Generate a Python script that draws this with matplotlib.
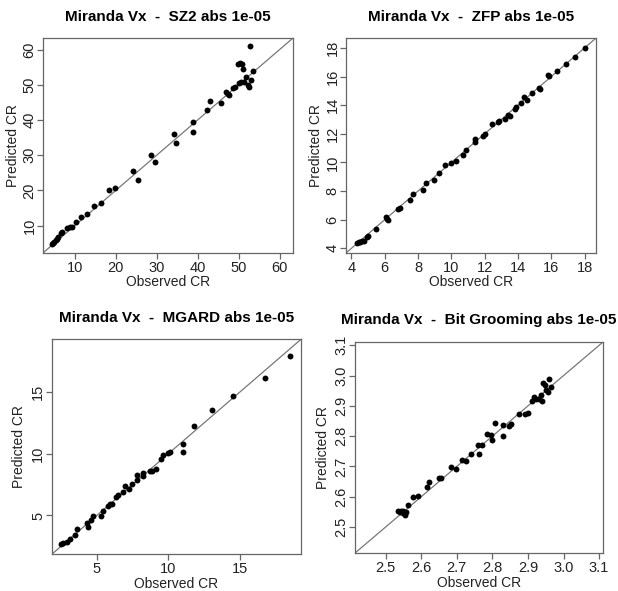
import matplotlib

matplotlib.use("Agg")
import matplotlib.pyplot as plt
import numpy as np

plt.rcParams["font.family"] = ["Liberation Sans", "DejaVu Sans"]

# SZ2
sz2_observed = [4.4, 4.7, 5.0, 5.3, 5.7, 6.0, 6.7, 6.9, 8.2, 8.8, 9.3, 10.2, 11.5,
                13.0, 14.6, 16.4, 18.3, 19.8, 24.3, 25.4, 28.6, 29.6, 34.2, 34.7,
                38.75, 38.9, 42.4, 43.0, 45.7, 46.8, 47.3, 47.6, 48.6, 49.0,
                49.9, 50.4, 50.8, 51.0, 53.5, 51.9, 53.1, 50.0, 50.6, 51.2,
                52.2, 52.6, 52.9]
sz2_predicted = [4.8, 5.1, 5.4, 5.8, 6.3, 6.7, 8.0, 8.3, 9.2, 9.5, 9.6, 11.0, 12.4,
                 13.2, 15.7, 16.4, 20.0, 20.6, 25.4, 23.0, 30.0, 28.1, 35.9, 33.4,
                 39.4, 36.6, 42.8, 45.3, 44.7, 47.9, 47.5, 47.2, 49.2, 49.4,
                 56.0, 56.2, 56.0, 54.5, 54.0, 52.2, 51.4, 50.6, 50.8, 50.7,
                 49.8, 49.4, 61.1]

# ZFP
zfp_observed = [4.34, 4.44, 4.54, 4.66, 4.78, 4.94, 4.98, 5.48, 6.08, 6.14, 6.18,
                6.80, 6.90, 7.54, 7.70, 8.28, 8.50, 8.98, 9.28, 9.60, 9.98, 10.26,
                10.70, 10.86, 11.42, 11.42, 11.92, 12.04, 12.44, 12.78, 12.88,
                13.22, 13.38, 13.54, 13.84, 13.88, 14.20, 14.34, 14.56, 14.84,
                15.28, 15.34, 15.80, 15.84, 16.32, 16.88, 17.44, 18.00]
zfp_predicted = [4.35, 4.42, 4.47, 4.49, 4.54, 4.77, 4.84, 5.33, 6.17, 6.03, 5.99,
                 6.76, 6.83, 7.41, 7.81, 8.09, 8.60, 8.79, 9.28, 9.84, 9.98, 10.09,
                 10.51, 10.89, 11.66, 11.40, 11.84, 11.96, 12.66, 12.80, 12.89,
                 13.05, 13.33, 13.22, 13.75, 13.87, 14.15, 14.57, 14.34, 14.85,
                 15.22, 15.15, 16.13, 16.06, 16.37, 16.90, 17.37, 18.00]

# MGARD
mgard_observed = [2.50, 2.66, 2.90, 3.13, 3.48, 3.64, 4.34, 4.41, 4.58, 4.72, 5.30,
                  5.46, 5.77, 5.93, 6.09, 6.33, 6.51, 6.82, 6.98, 7.26, 7.49,
                  7.80, 7.84, 8.22, 8.26, 8.73, 8.89, 9.15, 9.50, 9.66, 10.01,
                  10.13, 11.02, 11.06, 11.83, 13.05, 14.52, 16.79, 18.53]
mgard_predicted = [2.66, 2.74, 2.85, 3.07, 3.42, 3.93, 4.37, 4.09, 4.63, 4.96, 4.96,
                   5.39, 5.77, 5.93, 5.93, 6.48, 6.66, 6.93, 7.39, 7.13, 7.56,
                   8.29, 7.88, 8.20, 8.42, 8.61, 8.64, 8.75, 9.56, 9.91, 10.05,
                   10.13, 10.83, 10.13, 12.24, 13.56, 14.70, 16.18, 17.97]

# Bit Grooming
bg_observed = [2.534, 2.539, 2.543, 2.548, 2.553, 2.557, 2.550, 2.564, 2.578, 2.591,
               2.616, 2.621, 2.651, 2.656, 2.685, 2.697, 2.714, 2.725, 2.739,
               2.760, 2.761, 2.772, 2.784, 2.796, 2.798, 2.808, 2.829, 2.831,
               2.848, 2.853, 2.874, 2.893, 2.900, 2.912, 2.916, 2.923, 2.931,
               2.940, 2.938, 2.942, 2.947, 2.950, 2.955, 2.959, 2.964]
bg_predicted = [2.552, 2.549, 2.552, 2.546, 2.541, 2.548, 2.554, 2.571, 2.600, 2.601,
                2.633, 2.647, 2.663, 2.663, 2.698, 2.690, 2.721, 2.717, 2.742,
                2.770, 2.741, 2.772, 2.807, 2.804, 2.786, 2.842, 2.802, 2.837,
                2.834, 2.839, 2.873, 2.872, 2.878, 2.915, 2.929, 2.924, 2.922,
                2.915, 2.935, 2.976, 2.970, 2.954, 2.946, 2.989, 2.962]

panels = [
    ("Miranda Vx  -  SZ2 abs 1e-05", sz2_observed, sz2_predicted,
     (2.3, 63.2), [10, 20, 30, 40, 50, 60], "{:.0f}"),
    ("Miranda Vx  -  ZFP abs 1e-05", zfp_observed, zfp_predicted,
     (3.7, 18.67), [4, 6, 8, 10, 12, 14, 16, 18], "{:.0f}"),
    ("Miranda Vx  -  MGARD abs 1e-05", mgard_observed, mgard_predicted,
     (1.85, 19.3), [5, 10, 15], "{:.0f}"),
    ("Miranda Vx  -  Bit Grooming abs 1e-05", bg_observed, bg_predicted,
     (2.413, 3.112), [2.5, 2.6, 2.7, 2.8, 2.9, 3.0, 3.1], "{:.1f}"),
]

# axes rectangles in figure fractions (left, bottom, width, height)
rects = [
    (0.070, 0.5724, 0.4036, 0.3628),
    (0.5604, 0.5724, 0.4036, 0.3628),
    (0.0837, 0.0621, 0.4034, 0.3638),
    (0.574, 0.0638, 0.4023, 0.358),
]
ylabel_pads = [2, 2, 4, 3]

frame_color = "#666666"
text_color = "#222222"

figure = plt.figure(figsize=(6.18, 5.91), dpi=100)

for (title, observed, predicted, limits, ticks, fmt), rect, ypad in zip(
        panels, rects, ylabel_pads):
    axis = figure.add_axes(rect)
    axis.plot(limits, limits, color="#777777", linewidth=0.9, zorder=1)
    axis.scatter(observed, predicted, s=18, color="black", linewidths=0, zorder=2)

    axis.set_xlim(limits)
    axis.set_ylim(limits)
    axis.set_xticks(ticks)
    axis.set_yticks(ticks)
    labels = [fmt.format(t) for t in ticks]
    axis.set_xticklabels(labels)
    axis.set_yticklabels(labels, rotation=90, va="center")

    for spine in axis.spines.values():
        spine.set_color(frame_color)
        spine.set_linewidth(0.9)
    axis.tick_params(direction="out", length=4.3, width=0.9, color=frame_color,
                     labelsize=10.5, labelcolor=text_color)
    axis.tick_params(axis="x", pad=1.5)
    axis.tick_params(axis="y", pad=0.5)

    axis.set_xlabel("Observed CR", fontsize=10, color=text_color, labelpad=0.5)
    axis.set_ylabel("Predicted CR", fontsize=10, color=text_color,
                    labelpad=ypad)
    axis.set_title(title, fontsize=11, fontweight="bold", pad=12.5)

figure.savefig("out.png", dpi=100)
plt.close(figure)
